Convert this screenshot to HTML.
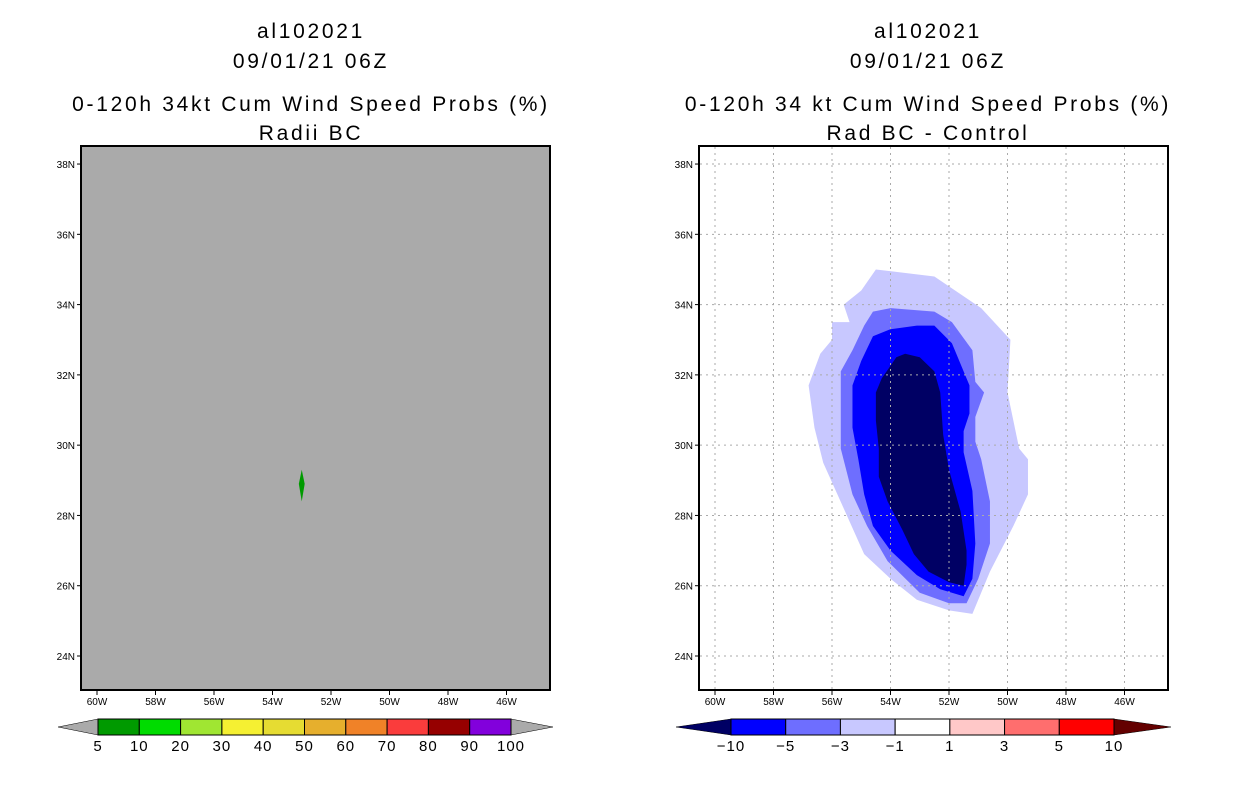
<!DOCTYPE html>
<html><head><meta charset="utf-8"><style>
body{margin:0;background:#fff;}
svg text{font-family:"Liberation Sans",sans-serif;fill:#000;}
.tt{letter-spacing:2.7px;}
</style></head><body>
<svg id="c" width="1236" height="800" viewBox="0 0 1236 800" xmlns="http://www.w3.org/2000/svg">
<rect width="1236" height="800" fill="#fff"/>
<g class="tt" font-size="21" text-anchor="middle">
<text x="311" y="38">al102021</text><text x="311" y="68">09/01/21 06Z</text>
<text x="311" y="111">0-120h 34kt Cum Wind Speed Probs (%)</text><text x="311" y="140">Radii BC</text></g>
<g class="tt" font-size="21" text-anchor="middle">
<text x="928" y="38">al102021</text><text x="928" y="68">09/01/21 06Z</text>
<text x="928" y="111">0-120h 34 kt Cum Wind Speed Probs (%)</text><text x="928" y="140">Rad BC - Control</text></g>
<g id="L"></g><g id="R"></g>
</svg>
<script>
const lonTicks=[-60,-58,-56,-54,-52,-50,-48,-46];
const latTicks=[24,26,28,30,32,34,36,38];
const leftCbarLabels=["5","10","20","30","40","50","60","70","80","90","100"];
const leftCbarColors=["#009a00","#00dc00","#a0e632","#f5f032","#e6dc32","#e6af2d","#f08228","#fa3c3c","#960000","#8200dc"];
const rightCbarLabels=["-10","-5","-3","-1","1","3","5","10"];
const rightCbarColors=["#0000ff","#6e6eff","#c8c8ff","#ffffff","#ffc8c8","#ff6e6e","#ff0000"];
const contourColors=["#c8c8ff","#6e6eff","#0000ff","#000064"];
const outerLon=[-54.5,-52.5,-50.9,-49.9,-50.0,-49.6,-49.3,-49.3,-49.8,-50.6,-51.2,-52.0,-53.1,-54.0,-54.9,-55.6,-56.3,-56.6,-56.8,-56.4,-56.0,-56.0,-55.4,-55.6,-55.0];
const outerLat=[35.0,34.8,33.9,33.0,31.5,29.9,29.6,28.6,27.7,26.4,25.2,25.3,25.6,26.2,26.9,28.2,29.5,30.5,31.7,32.6,33.0,33.5,33.5,34.0,34.4];
const medLon=[-54.0,-52.5,-51.9,-51.2,-51.1,-50.8,-51.1,-51.1,-50.9,-50.6,-50.6,-51.0,-51.4,-52.0,-53.0,-54.1,-54.8,-55.3,-55.7,-55.7,-55.7,-55.3,-54.9,-54.6];
const medLat=[33.9,33.8,33.5,32.7,31.8,31.5,30.8,30.1,29.6,28.4,27.2,26.2,25.5,25.5,25.8,26.7,27.7,28.6,29.9,30.8,32.1,32.7,33.4,33.8];
const blueLon=[-54.0,-53.1,-52.5,-51.9,-51.5,-51.3,-51.3,-51.5,-51.5,-51.2,-51.1,-51.2,-51.5,-52.3,-53.1,-54.0,-54.6,-54.9,-55.1,-55.3,-55.3,-55.0,-54.6];
const blueLat=[33.3,33.4,33.4,32.9,32.1,31.7,30.9,30.4,29.8,28.7,27.2,26.2,25.7,25.9,26.3,27.0,27.7,28.6,29.6,30.5,31.7,32.4,33.1];
const navyLon=[-53.8,-53.5,-53.0,-52.5,-52.3,-52.2,-52.0,-51.6,-51.4,-51.4,-51.5,-52.0,-52.7,-53.2,-53.6,-54.1,-54.4,-54.4,-54.5,-54.5,-54.3];
const navyLat=[32.5,32.6,32.5,32.1,31.5,30.3,29.3,28.1,27.0,26.6,26.0,26.1,26.4,26.9,27.6,28.4,29.1,29.9,30.7,31.5,31.9];
const greenLon=[-53.0,-52.9,-53.0,-53.1];
const greenLat=[29.3,28.9,28.4,28.9];
const NS="http://www.w3.org/2000/svg";
function mk(p,t,a){const e=document.createElementNS(NS,t);for(const k in a)e.setAttribute(k,a[k]);p.appendChild(e);return e;}
function panel(x0){
  const X=lon=>x0+16+(lon+60)*29.25, Y=lat=>656-(lat-24)*35.14;
  return {X,Y};
}
function drawAxes(g,x0,bg,name){
  const r=mk(g,'rect',{x:x0,y:146,width:469,height:544,fill:bg});
  
  
  return panel(x0);
}
function axesFrame(g,x0,name){
  const {X,Y}=panel(x0);
  lonTicks.forEach(l=>{
    const x=X(l);
    mk(g,'line',{x1:x,x2:x,y1:690,y2:695,stroke:'#000'});
    const t=mk(g,'text',{x:x,y:705,'font-size':10,'text-anchor':'middle'});t.textContent=(-l)+'W';
    
  });
  latTicks.forEach(l=>{
    const y=Y(l);
    mk(g,'line',{x1:x0-4,x2:x0,y1:y,y2:y,stroke:'#000'});
    const t=mk(g,'text',{x:x0-6,y:y+4,'font-size':10,'text-anchor':'end'});t.textContent=l+'N';
    
  });
  const f=mk(g,'rect',{x:x0,y:146,width:469,height:544,fill:'none',stroke:'#000','stroke-width':2});
  
}
function poly(g,X,Y,lons,lats,col,name){
  const p=mk(g,'polygon',{points:lons.map((l,i)=>X(l)+','+Y(lats[i])).join(' '),fill:col});
  
}
function cbar(g,x1,x2,tl,tr,colors,labels,lc,rc,name){
  const w=(x2-x1)/colors.length;
  const a=mk(g,'polygon',{points:`${tl},727 ${x1},719 ${x1},735`,fill:lc,stroke:'#000','stroke-width':0.5});
  
  const b=mk(g,'polygon',{points:`${tr},727 ${x2},719 ${x2},735`,fill:rc,stroke:'#000','stroke-width':0.5});
  
  colors.forEach((c,i)=>{const r=mk(g,'rect',{x:x1+i*w,y:719,width:w,height:16,fill:c,stroke:'#000','stroke-width':1});
    });
  labels.forEach((s,i)=>{const t=mk(g,'text',{x:x1+i*w,y:751,'font-size':15,'text-anchor':'middle','letter-spacing':1});t.textContent=s.replace('-','\u2212');
    });
}
const L=document.getElementById('L'),R=document.getElementById('R');
let a=drawAxes(L,81,'#aaaaaa','left');
poly(L,a.X,a.Y,greenLon,greenLat,'#009a00','green-prob-area');
axesFrame(L,81,'left');
let b=drawAxes(R,699,'#ffffff','right');
[[outerLon,outerLat],[medLon,medLat],[blueLon,blueLat],[navyLon,navyLat]].forEach((d,i)=>poly(R,b.X,b.Y,d[0],d[1],contourColors[i],'contour-level-'+i));
lonTicks.forEach(l=>{const x=b.X(l);const ln=mk(R,'line',{x1:x,x2:x,y1:147,y2:689,stroke:'#aaa','stroke-dasharray':'2,4'});});
latTicks.forEach(l=>{const y=b.Y(l);const ln=mk(R,'line',{x1:700,x2:1167,y1:y,y2:y,stroke:'#aaa','stroke-dasharray':'2,4'});});
axesFrame(R,699,'right');
cbar(L,98,511,58,553,leftCbarColors,leftCbarLabels,'#aaaaaa','#aaaaaa','left-colorbar');
cbar(R,731,1114,676,1171,rightCbarColors,rightCbarLabels,'#000064','#640000','right-colorbar');
</script>
</body></html>
